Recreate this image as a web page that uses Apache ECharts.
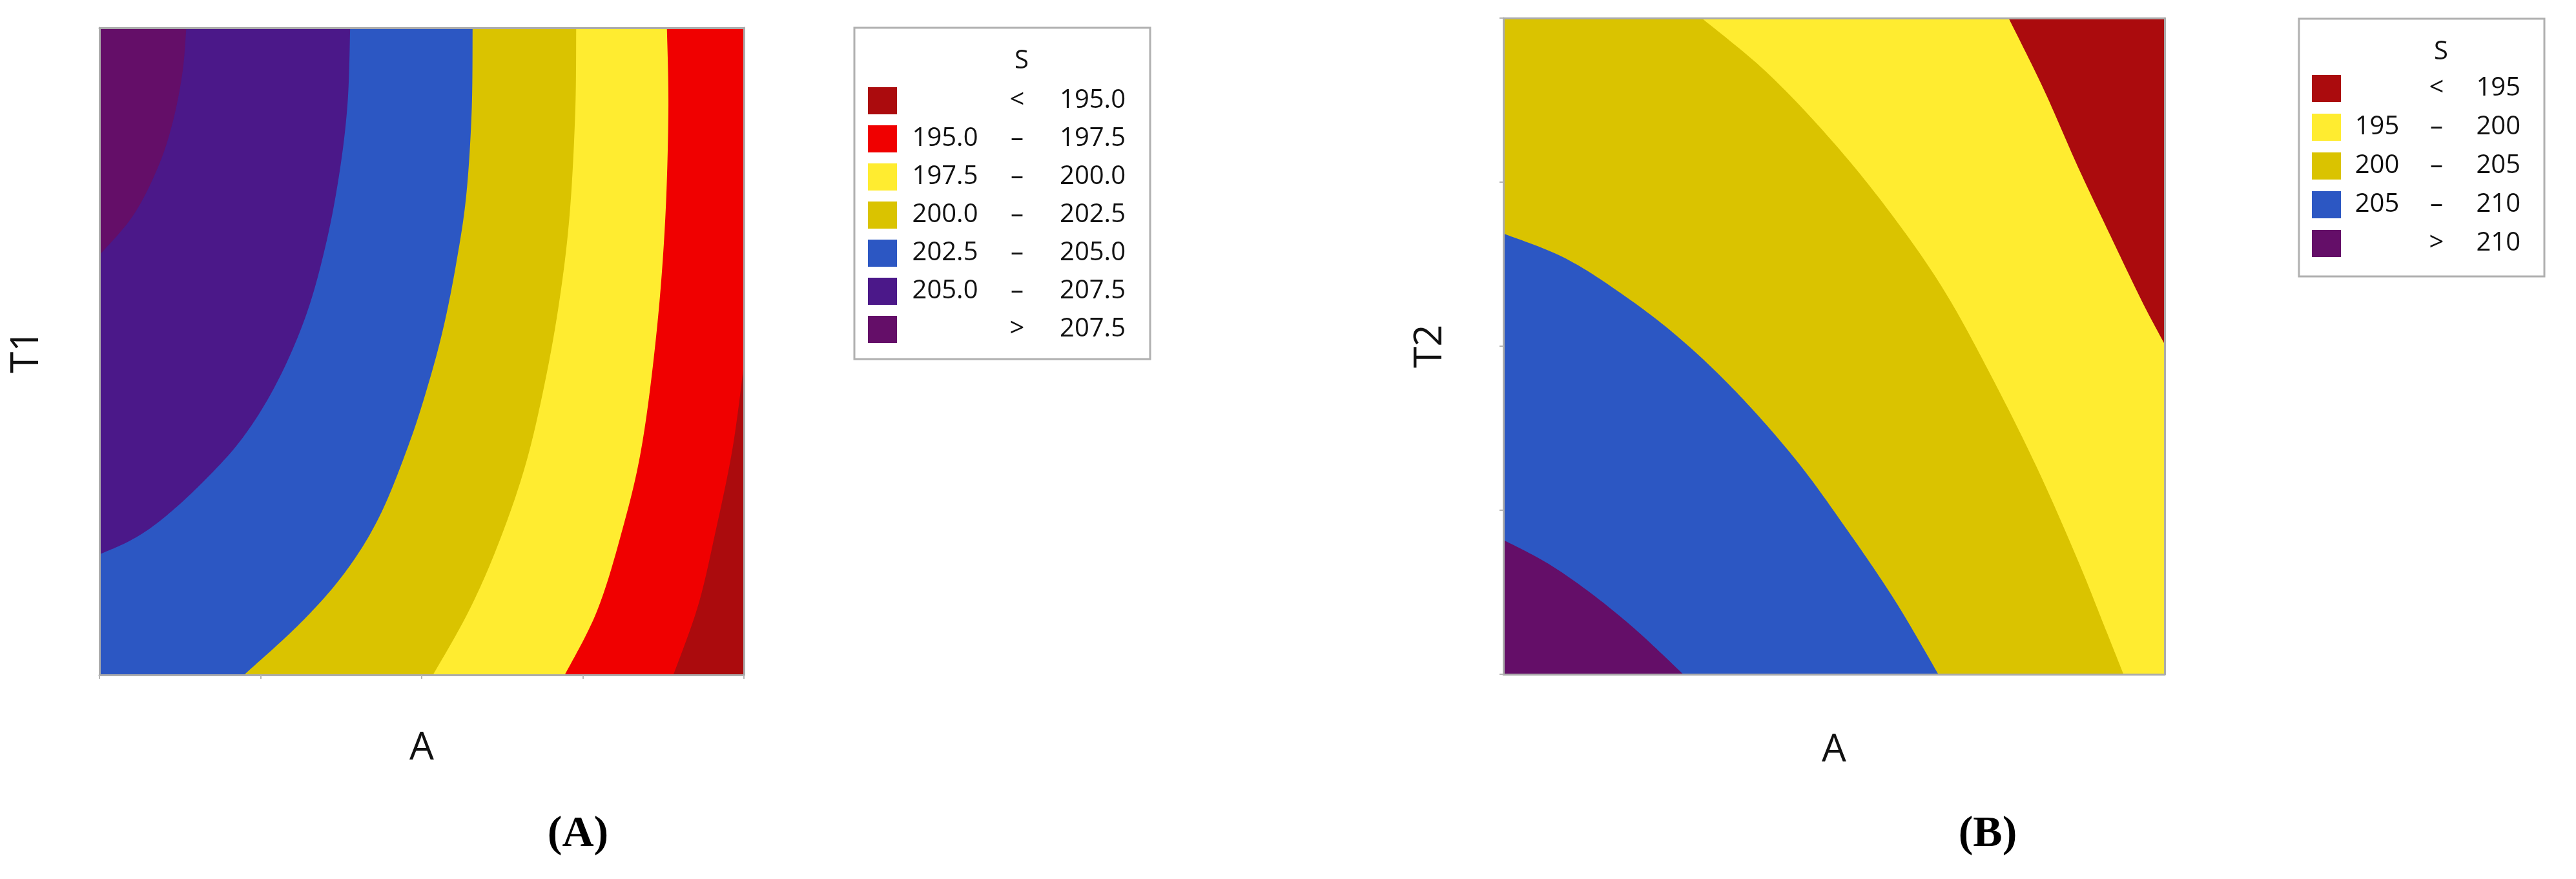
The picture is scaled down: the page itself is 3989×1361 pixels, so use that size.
<!DOCTYPE html>
<html>
<head>
<meta charset="utf-8">
<script src="https://cdn.jsdelivr.net/npm/echarts@6/dist/echarts.min.js"></script>
<style>
html,body{margin:0;padding:0;background:#ffffff;}
#chart{width:3989px;height:1361px;}
</style>
</head>
<body>
<div id="chart"></div>
<script>
// ---------------- DATA ----------------
// Axes are coded units without tick labels: 0..4 with ticks at every 1.
const AXIS_MIN = 0, AXIS_MAX = 4, AXIS_STEP = 1;

// Panel (A): S over A (x) and T1 (y). Contour boundary curves [A, T1].
const levelNamesA = ['< 195.0', '195.0 – 197.5', '197.5 – 200.0', '200.0 – 202.5', '202.5 – 205.0', '205.0 – 207.5', '> 207.5'];
const contourA_207_5 = [[0.539, 4.0], [0.515, 3.722], [0.453, 3.410], [0.361, 3.133], [0.208, 2.838], [0.0, 2.595]];
const contourA_205_0 = [[1.556, 4.0], [1.541, 3.549], [1.494, 3.133], [1.410, 2.682], [1.285, 2.231], [1.105, 1.814], [0.890, 1.467], [0.640, 1.190], [0.392, 0.965], [0.200, 0.835], [0.0, 0.745]];
const contourA_202_5 = [[2.316, 4.0], [2.310, 3.480], [2.276, 2.959], [2.214, 2.543], [2.138, 2.161], [2.046, 1.814], [1.923, 1.433], [1.739, 0.982], [1.525, 0.635], [1.250, 0.323], [0.897, 0.0]];
const contourA_200_0 = [[2.959, 4.0], [2.953, 3.480], [2.919, 2.855], [2.858, 2.335], [2.766, 1.814], [2.643, 1.294], [2.475, 0.808], [2.291, 0.392], [2.070, 0.0]];
const contourA_197_5 = [[3.522, 4.0], [3.531, 3.480], [3.510, 2.786], [3.455, 2.092], [3.363, 1.398], [3.240, 0.878], [3.087, 0.392], [2.888, 0.0]];
const contourA_195_0 = [[4.0, 1.918], [3.929, 1.398], [3.822, 0.878], [3.715, 0.427], [3.562, 0.0]];

// Panel (B): S over A (x) and T2 (y). Contour boundary curves [A, T2].
const levelNamesB = ['< 195', '195 – 200', '200 – 205', '205 – 210', '> 210'];
const contourB_195 = [[3.056, 4.0], [3.266, 3.571], [3.476, 3.092], [3.685, 2.646], [3.865, 2.269], [4.0, 2.012]];
const contourB_200 = [[1.199, 4.0], [1.588, 3.674], [1.978, 3.263], [2.337, 2.818], [2.667, 2.338], [2.966, 1.789], [3.236, 1.241], [3.476, 0.692], [3.640, 0.281], [3.751, 0.0]];
const contourB_205 = [[0.0, 2.687], [0.360, 2.543], [0.689, 2.338], [1.049, 2.063], [1.408, 1.721], [1.768, 1.309], [2.067, 0.898], [2.367, 0.452], [2.631, 0.0]];
const contourB_210 = [[0.0, 0.819], [0.270, 0.675], [0.539, 0.487], [0.809, 0.264], [1.088, 0.0]];

// ---------------- STYLE ----------------
const C_DARKRED = '#AB0B0D', C_RED = '#F00000', C_YELLOW = '#FFEC30', C_OLIVE = '#DAC300',
      C_BLUE = '#2C57C3', C_VIOLET = '#4B1889', C_PURPLE = '#640E68';
const FONT = '"Open Sans", "Noto Sans", sans-serif';
const FRAME = '#ababab';

// ---------------- HELPERS ----------------
const CORNER = {
  TL: [AXIS_MIN, AXIS_MAX], TR: [AXIS_MAX, AXIS_MAX],
  BR: [AXIS_MAX, AXIS_MIN], BL: [AXIS_MIN, AXIS_MIN]
};
// Catmull-Rom smoothing of the pixel path (drawing only)
function smoothPath(pts) {
  if (pts.length < 3) return pts.slice();
  const out = [];
  const n = pts.length;
  for (let i = 0; i < n - 1; i++) {
    const p0 = pts[Math.max(0, i - 1)], p1 = pts[i], p2 = pts[i + 1], p3 = pts[Math.min(n - 1, i + 2)];
    const steps = 16;
    for (let s = 0; s < steps; s++) {
      const t = s / steps, t2 = t * t, t3 = t2 * t;
      out.push([
        0.5 * ((2 * p1[0]) + (-p0[0] + p2[0]) * t + (2 * p0[0] - 5 * p1[0] + 4 * p2[0] - p3[0]) * t2 + (-p0[0] + 3 * p1[0] - 3 * p2[0] + p3[0]) * t3),
        0.5 * ((2 * p1[1]) + (-p0[1] + p2[1]) * t + (2 * p0[1] - 5 * p1[1] + 4 * p2[1] - p3[1]) * t2 + (-p0[1] + 3 * p1[1] - 3 * p2[1] + p3[1]) * t3)
      ]);
    }
  }
  out.push(pts[n - 1]);
  return out;
}
function regionSeries(name, color, gridIdx, curve, corners) {
  return {
    type: 'custom',
    name: name,
    coordinateSystem: 'cartesian2d',
    xAxisIndex: gridIdx * 2,
    yAxisIndex: gridIdx * 2,
    silent: true,
    clip: true,
    z: 2,
    itemStyle: { color: color },
    data: [[AXIS_MIN, AXIS_MIN]],
    renderItem: function (params, api) {
      if (params.dataIndex !== 0) return null;
      const pts = smoothPath(curve.map(function (p) { return api.coord(p); }));
      corners.forEach(function (c) { pts.push(api.coord(CORNER[c])); });
      return { type: 'polygon', shape: { points: pts }, style: { fill: api.visual('color') } };
    }
  };
}
function axesFor(gridIdx, xName, yName, xTicks, yTicks, xGap, yGap) {
  const base = {
    type: 'value', gridIndex: gridIdx, min: AXIS_MIN, max: AXIS_MAX, interval: AXIS_STEP,
    axisLabel: { show: false }, splitLine: { show: false }, z: 10,
    axisLine: { show: true, onZero: false, lineStyle: { color: FRAME, width: 3 } }
  };
  const nameStyle = { fontFamily: FONT, fontSize: 60, color: '#111111' };
  return {
    x: [
      Object.assign({}, base, { position: 'bottom', name: xName, nameLocation: 'middle', nameGap: xGap, nameTextStyle: nameStyle,
        axisTick: { show: xTicks, length: 6, lineStyle: { color: '#b5b5b5', width: 2 } } }),
      Object.assign({}, base, { position: 'top', axisTick: { show: false } })
    ],
    y: [
      Object.assign({}, base, { position: 'left', name: yName, nameLocation: 'middle', nameGap: yGap, nameTextStyle: nameStyle,
        axisTick: { show: yTicks, length: 6, lineStyle: { color: '#b5b5b5', width: 2 } } }),
      Object.assign({}, base, { position: 'right', axisTick: { show: false } })
    ]
  };
}
function legendRich(lw, mw, rw) {
  const t = { fontFamily: FONT, fontSize: 40, color: '#111111', lineHeight: 42 };
  return {
    l: Object.assign({ width: lw, align: 'right' }, t),
    m: Object.assign({ width: mw, align: 'center' }, t),
    r: Object.assign({ width: rw, align: 'right' }, t)
  };
}
function legendFormatter(name) {
  if (name.charAt(0) === '<' || name.charAt(0) === '>') {
    return '{l| }{m|' + name.charAt(0) + '}{r|' + name.slice(2) + '}';
  }
  const parts = name.split(' – ');
  return '{l|' + parts[0] + '}{m|–}{r|' + parts[1] + '}';
}

// ---------------- SERIES ----------------
const series = [
  // Panel A (painted from high S to low S)
  regionSeries(levelNamesA[6], C_PURPLE, 0, [], ['TL', 'TR', 'BR', 'BL']),
  regionSeries(levelNamesA[5], C_VIOLET, 0, contourA_207_5, ['BL', 'BR', 'TR']),
  regionSeries(levelNamesA[4], C_BLUE, 0, contourA_205_0, ['BL', 'BR', 'TR']),
  regionSeries(levelNamesA[3], C_OLIVE, 0, contourA_202_5, ['BR', 'TR']),
  regionSeries(levelNamesA[2], C_YELLOW, 0, contourA_200_0, ['BR', 'TR']),
  regionSeries(levelNamesA[1], C_RED, 0, contourA_197_5, ['BR', 'TR']),
  regionSeries(levelNamesA[0], C_DARKRED, 0, contourA_195_0, ['BR']),
  // Panel B
  regionSeries(levelNamesB[4], C_PURPLE, 1, [], ['TL', 'TR', 'BR', 'BL']),
  regionSeries(levelNamesB[3], C_BLUE, 1, contourB_210, ['BR', 'TR', 'TL']),
  regionSeries(levelNamesB[2], C_OLIVE, 1, contourB_205, ['BR', 'TR', 'TL']),
  regionSeries(levelNamesB[1], C_YELLOW, 1, contourB_200, ['BR', 'TR']),
  regionSeries(levelNamesB[0], C_DARKRED, 1, contourB_195, ['TR'])
];

const axA = axesFor(0, 'A', 'T1', true, false, 84, 82);
const axB = axesFor(1, 'A', 'T2', false, true, 88, 83);

const option = {
  animation: false,
  backgroundColor: '#ffffff',
  grid: [
    { left: 154, top: 43, width: 998, height: 1002, outerBoundsMode: 'none', containLabel: false },
    { left: 2328, top: 28, width: 1024, height: 1016, outerBoundsMode: 'none', containLabel: false }
  ],
  xAxis: [axA.x[0], axA.x[1], axB.x[0], axB.x[1]],
  yAxis: [axA.y[0], axA.y[1], axB.y[0], axB.y[1]],
  legend: [
    {
      orient: 'vertical', left: 1323, top: 43,
      padding: [92, 38, 25, 21],
      itemWidth: 45, itemHeight: 42, itemGap: 17,
      icon: 'rect', selectedMode: false,
      borderColor: '#b0b0b0', borderWidth: 3, backgroundColor: '#ffffff',
      data: levelNamesA,
      formatter: legendFormatter,
      textStyle: { fontFamily: FONT, fontSize: 40, color: '#111111', rich: legendRich(139, 84, 126) }
    },
    {
      orient: 'vertical', left: 3560, top: 29,
      padding: [87, 37, 30, 20],
      itemWidth: 45, itemHeight: 42, itemGap: 18,
      icon: 'rect', selectedMode: false,
      borderColor: '#b0b0b0', borderWidth: 3, backgroundColor: '#ffffff',
      data: levelNamesB,
      formatter: legendFormatter,
      textStyle: { fontFamily: FONT, fontSize: 40, color: '#111111', rich: legendRich(102, 82, 89) }
    }
  ],
  graphic: [
    { type: 'text', x: 1582, y: 95, z: 100, style: { text: 'S', align: 'center', verticalAlign: 'middle', font: '40px ' + FONT, fill: '#111111' } },
    { type: 'text', x: 3780, y: 81, z: 100, style: { text: 'S', align: 'center', verticalAlign: 'middle', font: '40px ' + FONT, fill: '#111111' } },
    { type: 'text', x: 895, y: 1292, style: { text: '(A)', align: 'center', verticalAlign: 'middle', font: 'bold 68px "Liberation Serif", "DejaVu Serif", serif', fill: '#000000' } },
    { type: 'text', x: 3078, y: 1292, style: { text: '(B)', align: 'center', verticalAlign: 'middle', font: 'bold 68px "Liberation Serif", "DejaVu Serif", serif', fill: '#000000' } }
  ],
  series: series
};

const chart = echarts.init(document.getElementById('chart'), null, { renderer: 'canvas' });
chart.setOption(option);
</script>
</body>
</html>
